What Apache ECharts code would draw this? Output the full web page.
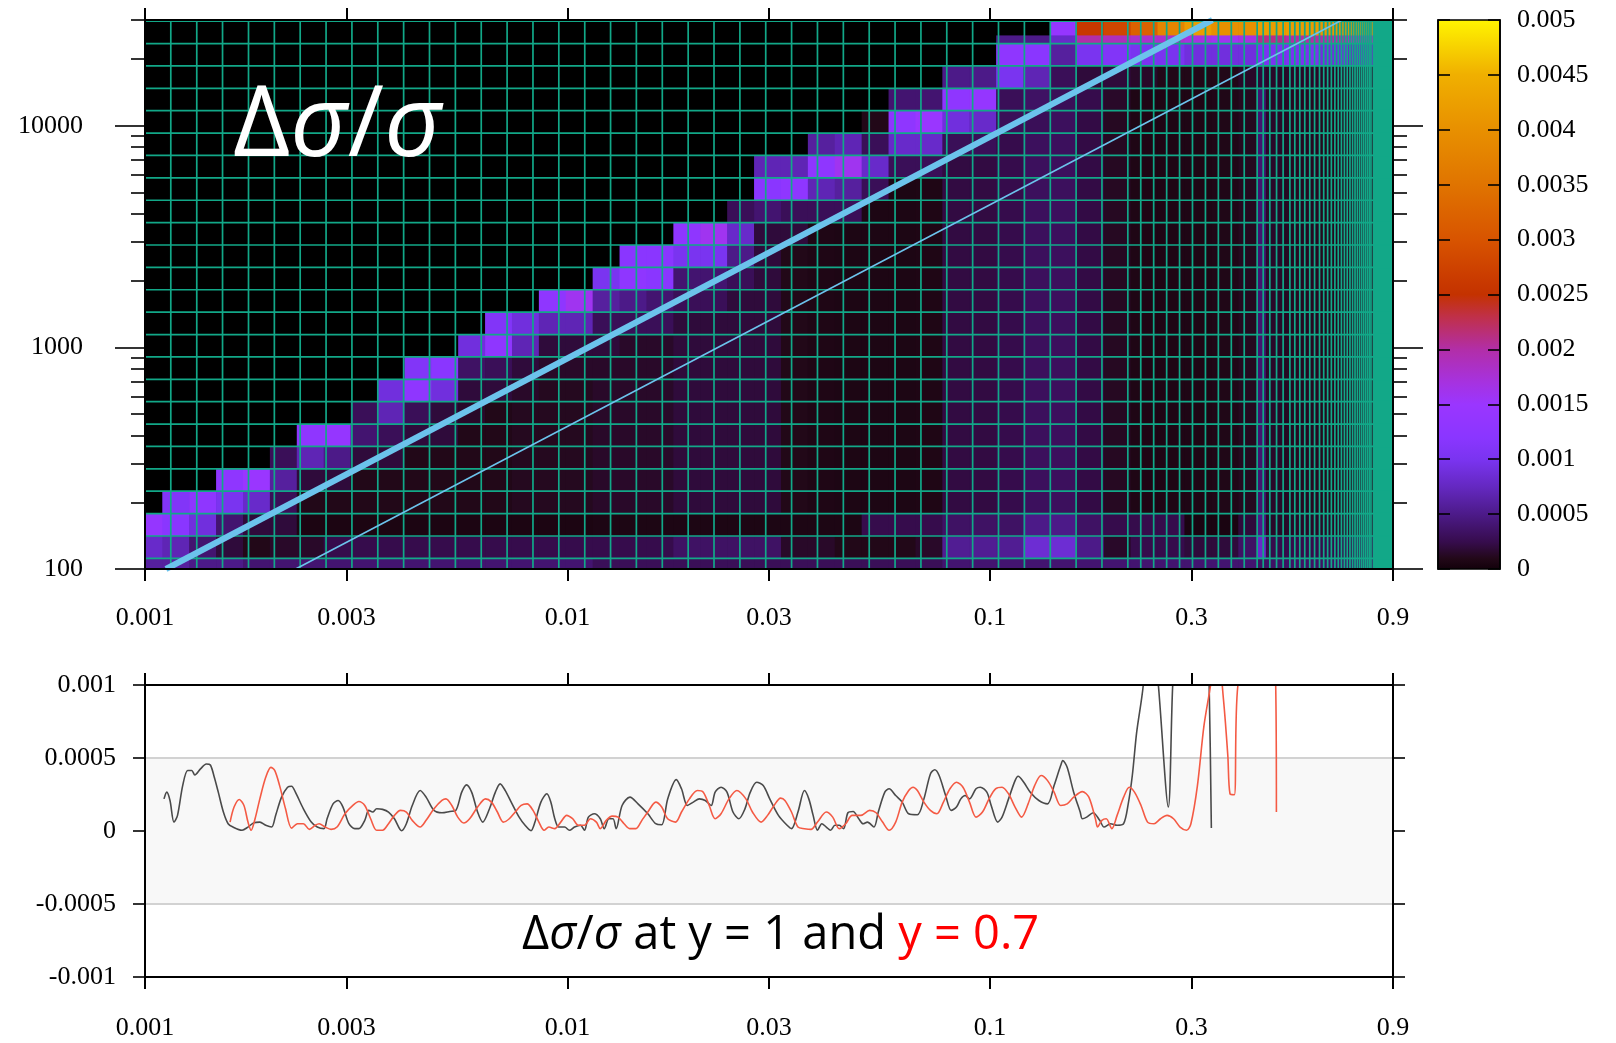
<!DOCTYPE html>
<html><head><meta charset="utf-8">
<script src="https://cdn.jsdelivr.net/npm/echarts@6.0.0/dist/echarts.min.js"></script>
<style>html,body{margin:0;padding:0;background:#fff;}#c{width:1616px;height:1043px;}</style>
</head><body><div id="c"></div>
<script>
// ================= DATA =================
const xRange = [0.001, 0.9];
const q2Range = [100, 30000];
const xTickValues = [0.001, 0.003, 0.01, 0.03, 0.1, 0.3, 0.9];
const xTickLabels = ['0.001', '0.003', '0.01', '0.03', '0.1', '0.3', '0.9'];
const q2MajorTicks = [100, 1000, 10000];
const q2MajorLabels = ['100', '1000', '10000'];
const q2MinorTicks = [200,300,400,500,600,700,800,900,2000,3000,4000,5000,6000,7000,8000,9000,20000,30000];
const cbTicks = [0,0.0005,0.001,0.0015,0.002,0.0025,0.003,0.0035,0.004,0.0045,0.005];
const cbLabels = ['0','0.0005','0.001','0.0015','0.002','0.0025','0.003','0.0035','0.004','0.0045','0.005'];
const diffTicks = [-0.001,-0.0005,0,0.0005,0.001];
const diffLabels = ['-0.001','-0.0005','0','0.0005','0.001'];
const diffBand = [-0.0005, 0.0005];

// heat-map cell edges (x and Q^2)
const xCellEdges = [0.001,0.0010988,0.0012723,0.0014732,0.0017058,0.0019752,0.0022871,0.0026482,0.0030664,0.0035506,
  0.0041113,0.0047605,0.0055122,0.0063826,0.0073905,0.0085575,0.0099088,0.011473,0.013285,0.015383,
  0.017812,0.020625,0.023882,0.027653,0.032019,0.037075,0.04293,0.049709,0.057558,0.066647,
  0.077171,0.089357,0.10347,0.11981,0.13872,0.16063,0.18599,0.21536,0.24937,0.28875,
  0.33434,0.38714,0.43,0.45,0.5,0.6,0.7,0.805];
const q2CellEdges = [100,111.7,140.9,177.8,224.4,283.1,357.2,450.8,568.8,717.7,905.6,1142.7,1441.9,1819.4,2295.7,
  2896.7,3655.1,4612,5819.4,7343,9265,11691,14752,18614,23487,25560,30000];
// cell values in units of 1e-4, rows from the top (Q^2 25560-30000) down to the bottom (100-111.7)
const heatUnit = 1e-4;
const heatRows = [
[0,0,0,0,0,0,0,0,0,0,0,0,0,0,0,0,0,0,0,0,0,0,0,0,0,0,0,0,0,0,0,0,0,0,14,26,28,32,38,42,40,40,42,42,42,41,41],
[0,0,0,0,0,0,0,0,0,0,0,0,0,0,0,0,0,0,0,0,0,0,0,0,0,0,0,0,0,0,0,0,5,5,8,20,19,18,18,17,16,17,21,21,20,20,19],
[0,0,0,0,0,0,0,0,0,0,0,0,0,0,0,0,0,0,0,0,0,0,0,0,0,0,0,0,0,0,0,0,13,12,6,10,11,10,10,9,9,9,10,10,10,9,8],
[0,0,0,0,0,0,0,0,0,0,0,0,0,0,0,0,0,0,0,0,0,0,0,0,0,0,0,0,0,0,5,5,10,7,3,2,2,1.5,1,1,1,1.5,2,1.5,1.5,1.5,1.5],
[0,0,0,0,0,0,0,0,0,0,0,0,0,0,0,0,0,0,0,0,0,0,0,0,0,0,0,0,4,4,13,14,3,3.5,3,2.5,1.5,0.8,0.8,0.8,0.9,1.2,4,1.5,1.3,1.2,1.2],
[0,0,0,0,0,0,0,0,0,0,0,0,0,0,0,0,0,0,0,0,0,0,0,0,0,0,0,1,13,15,9,8,3,3,3.2,2.3,1.3,0.8,0.8,0.8,0.9,1.2,4,1.5,1.3,1.2,1.2],
[0,0,0,0,0,0,0,0,0,0,0,0,0,0,0,0,0,0,0,0,0,0,0,0,0,6,7,3,8,8,3,3,2.5,3.2,3.2,2.3,1.3,0.8,0.8,0.8,0.9,1.2,4,1.5,1.3,1.2,1.2],
[0,0,0,0,0,0,0,0,0,0,0,0,0,0,0,0,0,0,0,0,0,0,0,7,7,13,16,8,3,3,2.2,2.2,2.5,3.2,3.2,2.3,1.3,0.8,0.8,0.8,0.9,1.2,4,1.5,1.3,1.2,1.2],
[0,0,0,0,0,0,0,0,0,0,0,0,0,0,0,0,0,0,0,0,0,0,0,12,13,7,6,3,0.7,0.8,2.2,2.2,2.5,3.2,3.2,2.3,1.3,0.8,0.8,0.8,0.9,1.2,4,1.5,1.3,1.2,1.2],
[0,0,0,0,0,0,0,0,0,0,0,0,0,0,0,0,0,0,0,0,0,0,3,4,3,3,3,0.7,0.7,0.8,2.2,2.2,2.5,3.2,3.2,2.3,1.3,0.8,0.8,0.8,0.9,1.2,4,1.5,1.3,1.2,1.2],
[0,0,0,0,0,0,0,0,0,0,0,0,0,0,0,0,0,0,0,0,13,16,8,2,2,0.8,0.7,0.7,0.7,0.8,2.2,2.2,2.5,3.2,3.2,2.3,1.3,0.8,0.8,0.8,0.9,1.2,4,1.5,1.3,1.2,1.2],
[0,0,0,0,0,0,0,0,0,0,0,0,0,0,0,0,0,0,12,12,10,10,5,2,1,0.8,0.7,0.7,0.7,0.8,2.2,2.2,2.5,3.2,3.2,2.3,1.3,0.8,0.8,0.8,0.9,1.2,4,1.5,1.3,1.2,1.2],
[0,0,0,0,0,0,0,0,0,0,0,0,0,0,0,0,0,10,13,12,4,4,3,2,1,0.8,0.7,0.7,0.7,0.8,2.2,2.2,2.5,3.2,3.2,2.3,1.3,0.8,0.8,0.8,0.9,1.2,4,1.5,1.3,1.2,1.2],
[0,0,0,0,0,0,0,0,0,0,0,0,0,0,0,13,16,6,5,4,3,3,2,2,1,0.8,0.7,0.7,0.7,0.8,2.2,2.2,2.5,3.2,3.2,2.3,1.3,0.8,0.8,0.8,0.9,1.2,4,1.5,1.3,1.2,1.2],
[0,0,0,0,0,0,0,0,0,0,0,0,0,11,9,7,7,3,3,3,2,2,2,2,1,0.8,0.7,0.7,0.7,0.8,2.2,2.2,2.5,3.2,3.2,2.3,1.3,0.8,0.8,0.8,0.9,1.2,4,1.5,1.3,1.2,1.2],
[0,0,0,0,0,0,0,0,0,0,0,0,9,13,7,2,2,2,1.5,1.5,2,2,2,2,1,0.8,0.7,0.7,0.7,0.8,2.2,2.2,2.5,3.2,3.2,2.3,1.3,0.8,0.8,0.8,0.9,1.2,4,1.5,1.3,1.2,1.2],
[0,0,0,0,0,0,0,0,0,0,11,12,3.5,3,2,1.5,1.5,1.5,1.5,1.5,2,2,2,2,1,0.8,0.7,0.7,0.7,0.8,2.2,2.2,2.5,3.2,3.2,2.3,1.3,0.8,0.8,0.8,0.9,1.2,4,1.5,1.3,1.2,1.2],
[0,0,0,0,0,0,0,0,0,9,13,9,2,2,1.5,1.2,1.2,1.5,1.5,1.5,2,2,2,2,1,0.8,0.7,0.7,0.7,0.8,2.2,2.2,2.5,3.2,3.2,2.3,1.3,0.8,0.8,0.8,0.9,1.2,4,1.5,1.3,1.2,1.2],
[0,0,0,0,0,0,0,0,3,7,3,2,1.5,1,1.2,1.2,1.2,1.5,1.5,1.5,2,2,2,2,1,0.8,0.7,0.7,0.7,0.8,2.2,2.2,2.5,3.2,3.2,2.3,1.3,0.8,0.8,0.8,0.9,1.2,4,1.5,1.3,1.2,1.2],
[0,0,0,0,0,0,13,14,4,3,2,2,1,1,1.2,1.2,1.2,1.5,1.5,1.5,2,2,2,2,1,0.8,0.7,0.7,0.7,0.8,2.2,2.2,2.5,3.2,3.2,2.3,1.3,0.8,0.8,0.8,0.9,1.2,4,1.5,1.3,1.2,1.2],
[0,0,0,0,0,3,7,5,2,2,1,1,1,1,1.2,1.2,1.2,1.5,1.5,1.5,2,2,2,2,1,0.8,0.7,0.7,0.7,0.8,2.2,2.2,2.5,3.2,3.2,2.3,1.3,0.8,0.8,0.8,0.9,1.2,4,1.5,1.3,1.2,1.2],
[0,0,0,13,15,6,2,2,1,1,1,1,1,1,1.2,1.2,1.2,1.5,1.5,1.5,2,2,2,2,1,0.8,0.7,0.7,0.7,0.8,2.2,2.2,2.5,3.2,3.2,2.3,1.3,0.8,0.8,0.8,0.9,1.2,4,1.5,1.3,1.2,1.2],
[0,11,13,10,8,3,1,1,1,1,1,1,1,1,1.2,1.2,1.2,1.5,1.5,1.5,2,2,2,2,1,0.8,0.7,0.7,0.7,0.8,2.2,2.2,2.5,3.2,3.2,2.3,1.3,0.8,0.8,0.8,0.9,1.2,4,1.5,1.3,1.2,1.2],
[14,12,9,4,2,2,0.6,0.6,0.6,0.6,0.6,0.6,0.6,0.6,0.6,0.6,0.6,0.7,0.7,0.7,0.7,0.7,0.7,0.7,0.7,0.7,0.7,2.5,2.5,2.5,3.5,3.5,3.5,5,5,3.5,2.5,2.5,2.5,0.5,0.5,2,5,1.5,1.5,1.5,1.5],
[8,7,4,2,1,1.5,1.5,2.5,2.5,2.5,2.5,2.5,2.5,2.5,2.5,2.5,2.5,2.5,2.5,2.5,3.5,3.5,3.5,3.5,1.5,1.5,1,1,1,1.5,5.5,5.5,5.5,8.5,8.5,5,1.5,2.5,2.5,2,2,3.5,8,2.5,2.5,2.5,2.5],
[6,6,5,5,4,4,4,4,4,4,4,4,4,4,4,4,4,3,3,3,3,3,3,3,3,3,3,3,3,3,4,4,4,4,4,4,4,4,4,4,4,4,3.5,3.5,3.5,3.5,3.5]
];

// bin-edge grid lines drawn over the map
const xGridLines = [0.001151,0.001326,0.001526,0.001758,0.002024,0.002330,0.002683,0.003089,0.003557,0.004095,
  0.004715,0.005429,0.006251,0.007197,0.008287,0.009541,0.01099,0.01265,0.01456,0.01677,
  0.01931,0.02223,0.02560,0.02947,0.03393,0.03907,0.04499,0.05180,0.05964,0.06867,
  0.07906,0.09103,0.1048,0.1207,0.1390,0.1600,0.1842,0.2121,0.2276,0.2442,
  0.2621,0.2812,0.3017,0.3238,0.3474,0.3728,0.4000,0.4292,0.4436,0.4599,
  0.4771,0.4945,0.5130,0.5270,0.5415,0.5564,0.5717,0.5870,0.6030,0.6169,
  0.6303,0.6432,0.6557,0.6678,0.6794,0.6906,0.7014,0.7119,0.7220,0.7317,
  0.7411,0.7502,0.7589,0.7673,0.7755,0.7833,0.7909,0.7982];
const q2GridLines = [111.7,140.9,177.8,224.4,283.1,357.2,450.8,568.8,717.7,905.6,1142.7,1441.9,1819.4,2295.7,
  2896.7,3655.1,4612,5819.4,7343,9265,11691,14752,18614,23487,29636];
const gridBand = [0.8053, 0.9];

// kinematic lines Q^2 = s*y*x
const lineY1 = [[0.0011211, 100], [0.33632, 30000]];
const lineYHalf = [[0.0022727, 100], [0.68182, 30000]];

// bottom panel: delta sigma / sigma at y = 1 (black) and y = 0.7 (red)
const diffY1 = [
[0.001109,2.20e-4],[0.001126,2.66e-4],[0.001146,2.09e-4],[0.001171,0.61e-4],[0.001194,1.07e-4],[0.001228,3.11e-4],
[0.001262,4.14e-4],[0.001290,4.14e-4],[0.001312,3.84e-4],[0.001353,4.25e-4],[0.001397,4.59e-4],[0.001428,4.52e-4],
[0.001459,3.68e-4],[0.001491,2.66e-4],[0.001533,1.30e-4],[0.001573,0.50e-4],[0.001615,0.27e-4],[0.001697,0.05e-4],
[0.001753,0.27e-4],[0.001811,0.57e-4],[0.001870,0.61e-4],[0.001931,0.39e-4],[0.001994,0.27e-4],[0.002038,1.07e-4],
[0.002105,2.32e-4],[0.002175,3.00e-4],[0.002223,3.07e-4],[0.002270,2.66e-4],[0.002371,1.52e-4],[0.002475,0.61e-4],
[0.002557,0.27e-4],[0.002652,0.16e-4],[0.002698,0.84e-4],[0.002787,1.86e-4],[0.002867,2.09e-4],[0.002942,1.64e-4],
[0.003039,0.50e-4],[0.003139,0.16e-4],[0.003208,0.16e-4],[0.003313,0.73e-4],[0.003386,1.41e-4],[0.003459,1.30e-4],
[0.003535,1.52e-4],[0.003651,1.48e-4],[0.003771,1.30e-4],[0.003895,0.84e-4],[0.004049,0.02e-4],[0.004156,0.50e-4],
[0.004292,1.75e-4],[0.004481,2.77e-4],[0.004628,2.32e-4],[0.004832,1.41e-4],[0.005045,1.25e-4],[0.005268,1.34e-4],
[0.005441,1.41e-4],[0.005620,2.66e-4],[0.005768,3.16e-4],[0.005932,2.66e-4],[0.006128,1.30e-4],[0.006302,0.61e-4],
[0.006538,1.52e-4],[0.006752,2.66e-4],[0.006929,3.23e-4],[0.007126,2.77e-4],[0.007360,1.98e-4],[0.007685,0.95e-4],
[0.007938,0.39e-4],[0.008199,0.02e-4],[0.008377,0.61e-4],[0.008653,1.98e-4],[0.008939,2.55e-4],[0.009133,1.98e-4],
[0.009333,0.84e-4],[0.009537,0.27e-4],[0.009849,0.27e-4],[0.010108,0.05e-4],[0.010397,0.27e-4],[0.010737,0.39e-4],
[0.010972,0.05e-4],[0.01121,0.95e-4],[0.01158,1.18e-4],[0.01196,0.84e-4],[0.01222,0.16e-4],[0.01254,0.84e-4],
[0.01282,0.84e-4],[0.01304,0.16e-4],[0.01347,1.75e-4],[0.01406,2.32e-4],[0.01469,1.86e-4],[0.01550,1.18e-4],
[0.01618,0.50e-4],[0.01672,0.43e-4],[0.01727,2.20e-4],[0.01810,3.52e-4],[0.01862,2.89e-4],[0.01923,1.75e-4],
[0.01986,1.98e-4],[0.02052,2.20e-4],[0.02120,2.09e-4],[0.02189,1.75e-4],[0.02237,2.66e-4],[0.02310,3.00e-4],
[0.02386,2.66e-4],[0.02465,1.30e-4],[0.02546,0.84e-4],[0.02630,1.50e-4],[0.02709,2.66e-4],[0.02806,3.34e-4],
[0.02907,3.11e-4],[0.03012,2.20e-4],[0.03158,1.07e-4],[0.03311,0.39e-4],[0.03391,0.16e-4],[0.03513,1.30e-4],
[0.03640,2.77e-4],[0.03727,2.20e-4],[0.03816,1.07e-4],[0.03908,0.05e-4],[0.04001,0.50e-4],[0.04099,0.27e-4],
[0.04197,0.05e-4],[0.04297,0.39e-4],[0.04400,0.39e-4],[0.04504,0.16e-4],[0.04612,1.25e-4],[0.04745,1.34e-4],
[0.04893,0.84e-4],[0.05010,0.50e-4],[0.05130,0.61e-4],[0.05315,0.27e-4],[0.05443,1.30e-4],[0.05640,2.66e-4],
[0.05775,2.89e-4],[0.05984,2.43e-4],[0.06200,1.98e-4],[0.06424,1.18e-4],[0.06736,1.11e-4],[0.06980,2.20e-4],
[0.07231,3.91e-4],[0.07405,4.20e-4],[0.07583,3.80e-4],[0.07857,2.43e-4],[0.08101,1.41e-4],[0.08334,1.64e-4],
[0.08535,2.20e-4],[0.08738,2.43e-4],[0.08949,2.20e-4],[0.09271,2.89e-4],[0.09493,3.00e-4],[0.09835,2.66e-4],
[0.10071,1.75e-4],[0.10435,0.61e-4],[0.10685,0.95e-4],[0.11071,2.20e-4],[0.11471,3.45e-4],[0.11663,3.75e-4],
[0.12027,3.34e-4],[0.12462,2.66e-4],[0.13062,2.09e-4],[0.13696,1.86e-4],[0.14190,3.11e-4],[0.14707,4.48e-4],
[0.14883,4.82e-4],[0.15237,4.36e-4],[0.15788,2.66e-4],[0.16358,1.30e-4],[0.16553,0.84e-4],[0.16950,0.95e-4],
[0.17562,1.25e-4],[0.18197,0.73e-4],[0.18633,0.27e-4],[0.19307,0.50e-4],[0.20005,0.39e-4],[0.20728,0.50e-4],
[0.21226,1.75e-4],[0.21734,3.80e-4],[0.22255,6.75e-4],[0.23060,9.93e-4],[0.2389,16e-4],[0.2505,10e-4],
[0.2645,1.64e-4],[0.2709,10e-4],[0.2800,16e-4],[0.3250,16e-4],[0.3304,10e-4],[0.3344,0.2e-4]
];
const diffY07 = [
[0.001590,0.61e-4],[0.001625,1.64e-4],[0.001672,2.16e-4],[0.001715,1.75e-4],[0.001753,0.61e-4],[0.001783,0.05e-4],
[0.001822,0.84e-4],[0.001870,2.20e-4],[0.001931,3.68e-4],[0.001986,4.36e-4],[0.002029,4.14e-4],[0.002083,3.11e-4],
[0.002151,1.52e-4],[0.002223,0.20e-4],[0.002296,0.50e-4],[0.002371,0.50e-4],[0.002449,0.11e-4],[0.002529,0.39e-4],
[0.002584,0.50e-4],[0.002669,0.27e-4],[0.002757,0.11e-4],[0.002848,0.27e-4],[0.002974,1.18e-4],[0.003105,1.75e-4],
[0.003208,2.02e-4],[0.003313,1.75e-4],[0.003421,0.84e-4],[0.003535,0.05e-4],[0.003651,0.05e-4],[0.003771,0.50e-4],
[0.003895,1.07e-4],[0.004023,1.41e-4],[0.004156,1.30e-4],[0.004292,0.73e-4],[0.004481,0.27e-4],[0.004628,0.73e-4],
[0.004832,1.52e-4],[0.005045,2.09e-4],[0.005156,2.20e-4],[0.005325,1.75e-4],[0.005500,0.95e-4],[0.005681,0.55e-4],
[0.005868,0.84e-4],[0.006128,1.64e-4],[0.006397,2.20e-4],[0.006608,1.98e-4],[0.006826,1.30e-4],[0.007051,0.61e-4],
[0.007283,0.84e-4],[0.007522,1.30e-4],[0.007769,1.75e-4],[0.008025,1.86e-4],[0.008290,1.41e-4],[0.008559,0.61e-4],
[0.008803,0.05e-4],[0.009036,0.27e-4],[0.009333,0.16e-4],[0.009641,0.61e-4],[0.009957,1.07e-4],[0.010285,0.84e-4],
[0.010622,0.39e-4],[0.010972,0.39e-4],[0.011335,0.84e-4],[0.011708,0.61e-4],[0.011961,0.16e-4],[0.012355,0.73e-4],
[0.012762,1.02e-4],[0.013183,0.95e-4],[0.013614,0.50e-4],[0.014063,0.16e-4],[0.014525,0.16e-4],[0.015005,0.73e-4],
[0.015499,1.30e-4],[0.016181,1.98e-4],[0.016715,1.64e-4],[0.017264,0.84e-4],[0.018027,0.61e-4],[0.018621,1.30e-4],
[0.019444,2.20e-4],[0.020297,2.77e-4],[0.020966,2.66e-4],[0.021655,1.75e-4],[0.022370,0.84e-4],[0.023098,1.18e-4],
[0.024118,2.20e-4],[0.025180,2.77e-4],[0.02645,2.20e-4],[0.02741,1.30e-4],[0.02873,0.61e-4],[0.02977,1.07e-4],
[0.03084,1.75e-4],[0.03196,2.25e-4],[0.03272,2.09e-4],[0.03391,1.30e-4],[0.03513,0.27e-4],[0.03640,0.16e-4],
[0.03772,0.11e-4],[0.03908,0.61e-4],[0.04099,1.30e-4],[0.04246,0.95e-4],[0.04400,0.16e-4],[0.04558,0.50e-4],
[0.04722,1.07e-4],[0.04952,1.07e-4],[0.05192,1.41e-4],[0.05379,1.25e-4],[0.05572,0.61e-4],[0.05775,0.05e-4],
[0.05984,0.61e-4],[0.06200,1.98e-4],[0.06424,2.77e-4],[0.06578,3.00e-4],[0.06736,2.77e-4],[0.06980,1.98e-4],
[0.07231,1.41e-4],[0.07492,1.18e-4],[0.07763,1.98e-4],[0.08044,2.89e-4],[0.08334,3.34e-4],[0.08636,3.00e-4],
[0.08949,1.98e-4],[0.09271,0.95e-4],[0.09605,1.30e-4],[0.09953,2.20e-4],[0.10313,2.89e-4],[0.10685,3.00e-4],
[0.11071,2.55e-4],[0.11471,1.64e-4],[0.11885,0.95e-4],[0.12316,1.86e-4],[0.12762,3.11e-4],[0.13223,3.80e-4],
[0.13696,3.45e-4],[0.14190,2.66e-4],[0.14707,1.75e-4],[0.15237,1.86e-4],[0.15788,2.32e-4],[0.16553,2.70e-4],
[0.17150,2.32e-4],[0.17772,0.84e-4],[0.17983,0.27e-4],[0.18414,0.73e-4],[0.18854,0.84e-4],[0.19442,0.16e-4],
[0.20005,1.07e-4],[0.20728,2.32e-4],[0.21379,3.00e-4],[0.21994,2.66e-4],[0.22791,1.75e-4],[0.23614,0.61e-4],
[0.24466,0.50e-4],[0.25349,0.84e-4],[0.26264,1.07e-4],[0.27211,0.84e-4],[0.28197,0.27e-4],[0.29215,0.05e-4],
[0.29913,0.50e-4],[0.30995,3.11e-4],[0.32115,7.20e-4],[0.33273,9.93e-4],[0.3448,13e-4],[0.35720,9.02e-4],
[0.36579,5.16e-4],[0.37016,2.55e-4],[0.37903,2.48e-4],[0.38628,9.93e-4],[0.4266,16e-4],[0.4745,10.5e-4],
[0.4767,1.30e-4]
];

// ================= STYLE =================
const cmapStops = [
  [0.00,'#12000a'],[0.02,'#220818'],[0.05,'#360c4c'],[0.10,'#4c1a88'],[0.15,'#6428c0'],[0.20,'#7a34f0'],
  [0.24,'#8a36ff'],[0.30,'#9a36ff'],[0.34,'#a632e0'],[0.40,'#b22ea8'],[0.46,'#c03048'],[0.50,'#c43200'],
  [0.52,'#c83800'],[0.60,'#d85400'],[0.70,'#e07400'],[0.80,'#e89000'],[0.90,'#f0b000'],[1.00,'#fff500']
];
const cbMax = 0.005;
const TEAL = '#12a888';
const SERIF = 'Liberation Serif';

heatRows.forEach((r, k) => { if (r.length !== xCellEdges.length - 1) throw new Error('row ' + k + ' has ' + r.length); });

function hex(c) { return [parseInt(c.substr(1,2),16), parseInt(c.substr(3,2),16), parseInt(c.substr(5,2),16)]; }
function cmapColor(v) {
  const t = Math.max(0, Math.min(1, v / cbMax));
  for (let k = 1; k < cmapStops.length; k++) {
    if (t <= cmapStops[k][0]) {
      const t0 = cmapStops[k-1][0], t1 = cmapStops[k][0];
      const a = hex(cmapStops[k-1][1]), b = hex(cmapStops[k][1]);
      const f = (t - t0) / (t1 - t0);
      return 'rgb(' + a.map((x, i) => Math.round(x + (b[i] - x) * f)).join(',') + ')';
    }
  }
  return cmapStops[cmapStops.length - 1][1];
}
function lookupLabel(values, labels) {
  return function (v) {
    for (let i = 0; i < values.length; i++) {
      if (Math.abs(v - values[i]) <= 1e-12 + Math.abs(values[i]) * 1e-6) return labels[i];
    }
    return '';
  };
}

// build heat cells
const cellData = [];
for (let r = 0; r < heatRows.length; r++) {
  const rowIdx = heatRows.length - 1 - r;
  const y0 = q2CellEdges[rowIdx], y1 = q2CellEdges[rowIdx + 1];
  heatRows[r].forEach((v, i) => {
    if (v > 0) cellData.push([xCellEdges[i], xCellEdges[i + 1], y0, y1, v * heatUnit]);
  });
}

function clipTo(params, rect) {
  const cs = params.coordSys;
  return echarts.graphic.clipRectByRect(rect, {x: cs.x, y: cs.y, width: cs.width, height: cs.height});
}

const axisLineStyle = {color: '#000', width: 2};
function xLog(gridIndex, position, showLabel, margin) {
  return {
    type: 'log', gridIndex, position, min: xRange[0], max: xRange[1], z: 10,
    axisLine: {show: true, onZero: false, lineStyle: axisLineStyle},
    axisTick: {show: true, inside: false, length: 12, customValues: xTickValues, lineStyle: {color: '#000', width: 2}},
    axisLabel: {show: showLabel, customValues: xTickValues, formatter: lookupLabel(xTickValues, xTickLabels),
      margin, fontFamily: SERIF, fontSize: 26, color: '#000', hideOverlap: false},
    splitLine: {show: false}, minorTick: {show: false}
  };
}
function yLog(position, ticks, len, showLabel) {
  return {
    type: 'log', gridIndex: 0, position, min: q2Range[0], max: q2Range[1], z: 10,
    axisLine: {show: true, onZero: false, lineStyle: axisLineStyle},
    axisTick: {show: true, inside: false, length: len, customValues: ticks, lineStyle: {color: '#000', width: 1.6}},
    axisLabel: {show: showLabel, customValues: q2MajorTicks, formatter: lookupLabel(q2MajorTicks, q2MajorLabels),
      margin: 62, fontFamily: SERIF, fontSize: 26, color: '#000', hideOverlap: false},
    splitLine: {show: false}, minorTick: {show: false}
  };
}
function yDiff(position, showLabel) {
  return {
    type: 'value', gridIndex: 1, position, min: diffTicks[0], max: diffTicks[diffTicks.length - 1], interval: 0.0005, z: 10,
    axisLine: {show: true, onZero: false, lineStyle: axisLineStyle},
    axisTick: {show: true, inside: false, length: 12, lineStyle: {color: '#000', width: 1.6}},
    axisLabel: {show: showLabel, formatter: lookupLabel(diffTicks, diffLabels), margin: 29,
      fontFamily: SERIF, fontSize: 26, color: '#000'},
    splitLine: {show: false}
  };
}
function yCb(position, showLabel) {
  return {
    type: 'value', gridIndex: 2, position, min: 0, max: cbMax, interval: 0.0005, z: 10,
    axisLine: {show: true, onZero: false, lineStyle: {color: '#000', width: 1.6}},
    axisTick: {show: true, inside: true, length: 12, lineStyle: {color: '#000', width: 1.6}},
    axisLabel: {show: showLabel, formatter: lookupLabel(cbTicks, cbLabels), margin: 17,
      fontFamily: SERIF, fontSize: 26, color: '#000'},
    splitLine: {show: false}
  };
}

const option = {
  animation: false,
  backgroundColor: '#ffffff',
  grid: [
    {left: 145, top: 20, width: 1248, height: 549, show: true, backgroundColor: '#000000', borderWidth: 0},
    {left: 145, top: 685, width: 1248, height: 292, show: false},
    {left: 1438, top: 20, width: 62, height: 549, show: false}
  ],
  xAxis: [
    xLog(0, 'bottom', true, 36),
    xLog(0, 'top', false, 10),
    xLog(1, 'bottom', true, 38),
    xLog(1, 'top', false, 10),
    {type: 'value', gridIndex: 2, min: 0, max: 1, show: false}
  ],
  yAxis: [
    yLog('left', q2MajorTicks, 30, true),
    yLog('left', q2MinorTicks, 14, false),
    yLog('right', q2MajorTicks, 30, false),
    yLog('right', q2MinorTicks, 14, false),
    yDiff('left', true),
    yDiff('right', false),
    yCb('right', true),
    yCb('left', false)
  ],
  series: [
    { // heat map cells
      type: 'custom', coordinateSystem: 'cartesian2d', xAxisIndex: 0, yAxisIndex: 0, z: 1, silent: true,
      encode: {x: [0, 1], y: [2, 3]},
      data: cellData,
      renderItem: function (params, api) {
        const p0 = api.coord([api.value(0), api.value(2)]);
        const p1 = api.coord([api.value(1), api.value(3)]);
        const shape = clipTo(params, {x: p0[0], y: p1[1], width: p1[0] - p0[0] + 0.7, height: p0[1] - p1[1] + 0.7});
        if (!shape) return;
        return {type: 'rect', shape, style: {fill: cmapColor(api.value(4))}};
      }
    },
    { // solid band of merged bin lines
      type: 'custom', coordinateSystem: 'cartesian2d', xAxisIndex: 0, yAxisIndex: 0, z: 2, silent: true,
      encode: {x: [0, 1], y: [2, 3]},
      data: [[gridBand[0], gridBand[1], q2Range[0], q2Range[1]]],
      renderItem: function (params, api) {
        const p0 = api.coord([api.value(0), api.value(2)]);
        const p1 = api.coord([api.value(1), api.value(3)]);
        const shape = clipTo(params, {x: p0[0], y: p1[1], width: p1[0] - p0[0], height: p0[1] - p1[1]});
        return {type: 'rect', shape, style: {fill: TEAL}};
      }
    },
    { // vertical bin edges
      type: 'custom', coordinateSystem: 'cartesian2d', xAxisIndex: 0, yAxisIndex: 0, z: 2, silent: true,
      encode: {x: 0, y: 1},
      data: xGridLines.map(x => [x, q2Range[0]]),
      renderItem: function (params, api) {
        const x = api.value(0);
        const p0 = api.coord([x, q2Range[0]]), p1 = api.coord([x, q2Range[1]]);
        return {type: 'line', shape: {x1: p0[0], y1: p0[1], x2: p1[0], y2: p1[1]}, style: {stroke: TEAL, lineWidth: 1.7}};
      }
    },
    { // horizontal bin edges
      type: 'custom', coordinateSystem: 'cartesian2d', xAxisIndex: 0, yAxisIndex: 0, z: 2, silent: true,
      encode: {x: 0, y: 1},
      data: q2GridLines.map(y => [xRange[0], y]),
      renderItem: function (params, api) {
        const y = api.value(1);
        const p0 = api.coord([xRange[0], y]), p1 = api.coord([xRange[1], y]);
        return {type: 'line', shape: {x1: p0[0], y1: p0[1], x2: p1[0], y2: p1[1]}, style: {stroke: TEAL, lineWidth: 1.7}};
      }
    },
    {
      type: 'line', xAxisIndex: 0, yAxisIndex: 0, z: 5, data: lineY1, showSymbol: false, symbol: 'none', silent: true,
      lineStyle: {color: '#6cc3ec', width: 6}
    },
    {
      type: 'line', xAxisIndex: 0, yAxisIndex: 0, z: 5, data: lineYHalf, showSymbol: false, symbol: 'none', silent: true,
      lineStyle: {color: '#6cc3ec', width: 1.6}
    },
    { // shaded band in lower panel
      type: 'custom', coordinateSystem: 'cartesian2d', xAxisIndex: 2, yAxisIndex: 4, z: 1, silent: true,
      encode: {x: [0, 1], y: [2, 3]},
      data: [[xRange[0], xRange[1], diffBand[0], diffBand[1]]],
      renderItem: function (params, api) {
        const p0 = api.coord([api.value(0), api.value(2)]);
        const p1 = api.coord([api.value(1), api.value(3)]);
        return {type: 'group', children: [
          {type: 'rect', shape: {x: p0[0], y: p1[1], width: p1[0] - p0[0], height: p0[1] - p1[1]}, style: {fill: '#f8f8f8'}},
          {type: 'line', shape: {x1: p0[0], y1: p1[1], x2: p1[0], y2: p1[1]}, style: {stroke: '#d2d2d2', lineWidth: 2}},
          {type: 'line', shape: {x1: p0[0], y1: p0[1], x2: p1[0], y2: p0[1]}, style: {stroke: '#d2d2d2', lineWidth: 2}}
        ]};
      }
    },
    {
      type: 'line', xAxisIndex: 2, yAxisIndex: 4, z: 4, data: diffY1, showSymbol: false, symbol: 'none', smooth: 0.3,
      silent: true, clip: true, lineStyle: {color: '#4a4a4a', width: 1.6}
    },
    {
      type: 'line', xAxisIndex: 2, yAxisIndex: 4, z: 5, data: diffY07, showSymbol: false, symbol: 'none', smooth: 0.3,
      silent: true, clip: true, lineStyle: {color: '#f45a44', width: 1.6}
    },
    { // colour bar
      type: 'custom', coordinateSystem: 'cartesian2d', xAxisIndex: 4, yAxisIndex: 6, z: 1, silent: true,
      encode: {x: [0, 1], y: [2, 3]},
      data: [[0, 1, 0, cbMax]],
      renderItem: function (params, api) {
        const p0 = api.coord([api.value(0), api.value(2)]);
        const p1 = api.coord([api.value(1), api.value(3)]);
        return {type: 'rect', shape: {x: p0[0], y: p1[1], width: p1[0] - p0[0], height: p0[1] - p1[1]},
          style: {fill: new echarts.graphic.LinearGradient(0, 1, 0, 0, cmapStops.map(s => ({offset: s[0], color: s[1]}))),
                  stroke: '#000', lineWidth: 1.6}};
      }
    }
  ],
  graphic: [
    {
      type: 'text', x: 233, y: 128, z: 100, silent: true,
      style: {
        text: '{n|Δ}{i|σ}{n|/}{i|σ}', fill: '#ffffff', verticalAlign: 'middle',
        fontSize: 99, fontFamily: 'Open Sans',
        rich: {
          n: {fontSize: 99, fontFamily: 'Open Sans', fill: '#ffffff'},
          i: {fontSize: 99, fontFamily: 'Open Sans', fontStyle: 'italic', fill: '#ffffff'}
        }
      }
    },
    {
      type: 'text', x: 522, y: 936, z: 100, silent: true,
      style: {
        text: '{n|Δ}{i|σ}{n|/}{i|σ}{n| at y = 1 and }{r|y = 0.7}', fill: '#000', verticalAlign: 'middle',
        fontSize: 47, fontFamily: 'Open Sans',
        rich: {
          n: {fontSize: 47, fontFamily: 'Open Sans', fill: '#000000'},
          i: {fontSize: 47, fontFamily: 'Open Sans', fontStyle: 'italic', fill: '#000000'},
          r: {fontSize: 47, fontFamily: 'Open Sans', fill: '#ff0000'}
        }
      }
    }
  ]
};

const chart = echarts.init(document.getElementById('c'), null, {renderer: 'canvas', width: 1616, height: 1043});
chart.setOption(option);
</script>
</body></html>
